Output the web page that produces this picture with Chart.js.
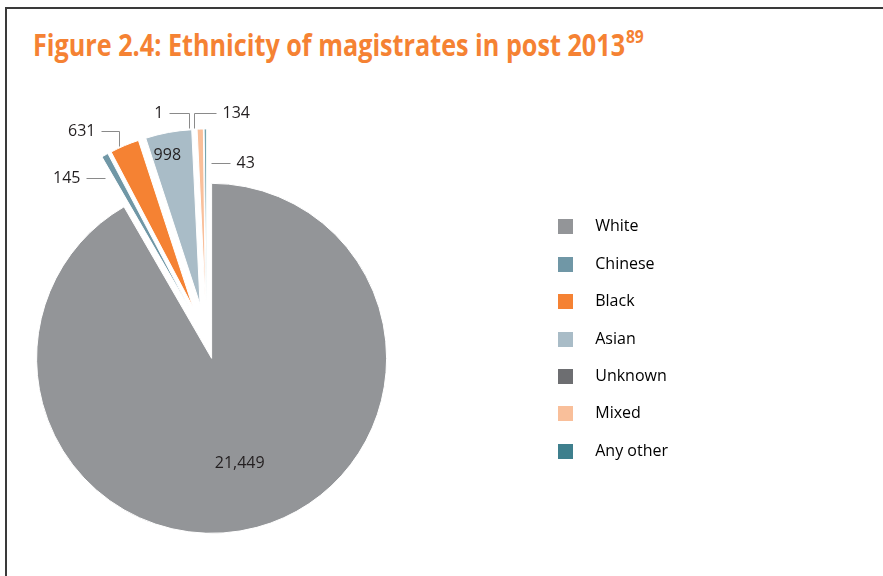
<!DOCTYPE html>
<html>
<head>
<meta charset="utf-8">
<title>Ethnicity of magistrates in post 2013</title>
<script src="https://cdn.jsdelivr.net/npm/chart.js@4.4.1/dist/chart.umd.min.js"></script>
<style>
    html, body { margin: 0; padding: 0; background: #fff; }
    body { width: 883px; height: 576px; position: relative; overflow: hidden; }
    #frame {
        position: absolute; left: 5px; top: 7px; width: 900px; height: 600px;
        border-left: 2px solid #3a3a3a; border-top: 2px solid #3a3a3a;
    }
    #title {
        position: absolute; left: 33px; top: 25px;
        font-family: "Open Sans"; font-weight: 700; font-size: 30px; line-height: 40px;
        color: #f58233; white-space: nowrap;
        transform: scaleX(0.84); transform-origin: left top;
    }
    #title sup {
        font-size: 62%; line-height: 0; vertical-align: 0;
        position: relative; top: -0.72em; margin-left: 1px;
    }
    #wrap { position: absolute; left: -110px; top: 101px; width: 788px; height: 476px; }
</style>
</head>
<body>
<div id="frame"></div>
<div id="title">Figure 2.4: Ethnicity of magistrates in post 2013<sup>89</sup></div>
<div id="wrap"><canvas id="chart"></canvas></div>
<script>
const categories = ['White', 'Chinese', 'Black', 'Asian', 'Unknown', 'Mixed', 'Any other'];
const magistrates = [21449, 145, 631, 998, 1, 134, 43];

const colours = ['#939598', '#7097a6', '#f58233', '#a9bcc7', '#6d6e71', '#f9bf9a', '#3e7f8d'];

// little square swatches for the legend, so the box can sit apart from the text
function swatch(colour) {
    const c = document.createElement('canvas');
    c.width = 15;
    c.height = 15;
    const g = c.getContext('2d');
    g.fillStyle = colour;
    g.fillRect(0, 0, 15, 15);
    return c;
}
const swatches = colours.map(swatch);

// push slices out along their middle angle without growing them
const explodePlugin = {
    id: 'explode',
    afterDatasetsUpdate(chart, args, opts) {
        chart.getDatasetMeta(0).data.forEach((arc, i) => {
            const d = opts.distance[i] || 0;
            const mid = (arc.startAngle + arc.endAngle) / 2;
            arc.x += Math.cos(mid) * d;
            arc.y += Math.sin(mid) * d;
        });
    }
};

const sliceLabelPlugin = {
    id: 'sliceLabels',
    afterDatasetsDraw(chart, args, opts) {
        const ctx = chart.ctx;
        const meta = chart.getDatasetMeta(0);
        ctx.save();
        ctx.font = '16px "Open Sans"';
        ctx.fillStyle = '#231f20';
        ctx.strokeStyle = '#8a8a8a';
        ctx.lineWidth = 1;
        ctx.textBaseline = 'middle';
        meta.data.forEach((arc, i) => {
            const text = magistrates[i].toLocaleString('en-GB');
            const mid = (arc.startAngle + arc.endAngle) / 2;
            const inside = opts.inside[i];
            if (inside) {
                const a = mid + inside.turn;
                const r = arc.outerRadius * inside.at;
                ctx.textAlign = 'center';
                ctx.fillText(text, arc.x + Math.cos(a) * r, arc.y + Math.sin(a) * r);
                return;
            }
            const l = opts.leaders[i];
            if (!l) return;
            const ax = Math.round(arc.x + Math.cos(mid) * arc.outerRadius + l.end[0]) + 0.5;
            const ay = Math.round(arc.y + Math.sin(mid) * arc.outerRadius + l.end[1]) + 0.5;
            const ey = ay + l.rise;
            const ex = ax + l.run;
            ctx.beginPath();
            ctx.moveTo(ax, ay);
            ctx.lineTo(ax, ey);
            ctx.lineTo(ex, ey);
            ctx.stroke();
            ctx.textAlign = l.run < 0 ? 'right' : 'left';
            ctx.fillText(text, ex + Math.sign(l.run) * 6, ey);
        });
        ctx.restore();
    }
};

window.onload = function() {
    const ctx = document.getElementById('chart').getContext('2d');
    new Chart(ctx, {
        type: 'pie',
        data: {
            labels: categories,
            datasets: [{
                data: magistrates,
                backgroundColor: colours,
                borderColor: '#ffffff',
                borderWidth: 1,
                radius: 175
            }]
        },
        options: {
            responsive: true,
            maintainAspectRatio: false,
            animation: false,
            events: [],
            layout: { padding: 0 },
            plugins: {
                tooltip: { enabled: false },
                legend: {
                    position: 'right',
                    labels: {
                        usePointStyle: true,
                        pointStyleWidth: 43,
                        padding: 21.4,
                        color: '#231f20',
                        font: { family: 'Open Sans', size: 16 },
                        generateLabels: () => categories.map((c, i) => ({
                            text: c,
                            fillStyle: colours[i],
                            strokeStyle: colours[i],
                            lineWidth: 0,
                            pointStyle: swatches[i],
                            hidden: false,
                            index: i
                        }))
                    }
                },
                explode: { distance: [20, 35, 35, 35, 35, 35, 35] },
                sliceLabels: {
                    inside: {
                        0: { at: 0.62, turn: 0 },
                        3: { at: 0.87, turn: -0.035 }
                    },
                    leaders: {
                        1: { end: [0, 23], rise: 0, run: -19 },
                        2: { end: [-6, 0], rise: -15, run: -18 },
                        4: { end: [-7, -1], rise: -15, run: -20 },
                        5: { end: [-6, -1], rise: -15, run: 22 },
                        6: { end: [6, 34], rise: 0, run: 19 }
                    }
                }
            }
        },
        plugins: [explodePlugin, sliceLabelPlugin]
    });
};
</script>
</body>
</html>
